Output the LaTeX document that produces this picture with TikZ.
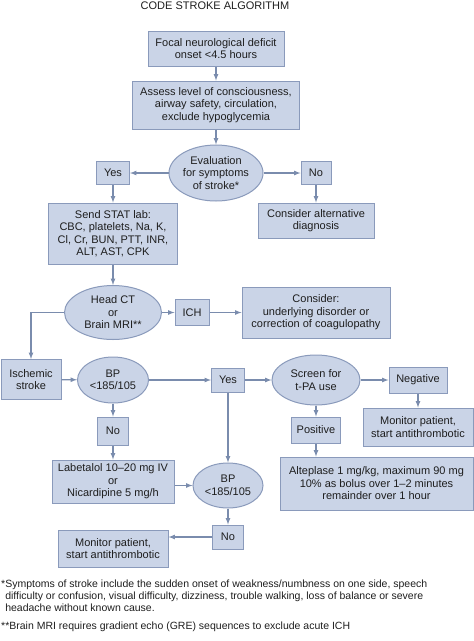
\documentclass[tikz,border=0pt]{standalone}
\usepackage{fontspec}
\setmainfont{Liberation Sans}
\usetikzlibrary{arrows,positioning,shapes.geometric}
\definecolor{boxfill}{HTML}{CAD4E7}
\definecolor{boxline}{HTML}{8A9ABB}
\definecolor{arrowcol}{HTML}{7A8CAD}
\definecolor{txt}{HTML}{1E1E1E}

\begin{document}
\begin{tikzpicture}[x=1pt,y=-1pt,
    every node/.style={font=\fontsize{11}{12.5}\selectfont,text=txt},
    box/.style={draw=boxline,fill=boxfill,line width=1pt,inner sep=0pt,align=center},
    oval/.style={ellipse,draw=boxline,fill=boxfill,line width=1pt,inner sep=0pt,align=center},
    link/.style={draw=arrowcol,line width=1.2pt,-latex},
    foot/.style={anchor=north west,inner sep=0pt,align=left,font=\fontsize{10.5}{12}\selectfont}]
    \useasboundingbox (0,0) rectangle (474,641);

    \node (title) at (215,6) {CODE STROKE ALGORITHM};

    \node[box,minimum width=136pt,minimum height=35pt] (onset) at (216,48.5) {Focal neurological deficit\\onset <4.5 hours};
    \node[box,minimum width=167pt,minimum height=48pt] (assess) at (216,105) {Assess level of consciousness,\\airway safety, circulation,\\exclude hypoglycemia};
    \node[oval,minimum width=94pt,minimum height=56pt] (eval) at (216,173) {Evaluation\\for symptoms\\of stroke*};
    \node[box,minimum width=33pt,minimum height=23pt] (yes1) at (113,173) {Yes};
    \node[box,minimum width=30pt,minimum height=23pt] (no1) at (316,173) {No};
    \node[box,minimum width=129pt,minimum height=61pt] (lab) at (113,233.5) {Send STAT lab:\\CBC, platelets, Na, K,\\Cl, Cr, BUN, PTT, INR,\\ALT, AST, CPK};
    \node[box,minimum width=116pt,minimum height=35pt] (alt) at (316,220.5) {Consider alternative\\diagnosis};

    \node[oval,minimum width=97pt,minimum height=54pt] (headct) at (113,312.5) {Head CT\\or\\Brain MRI**};
    \node[box,minimum width=34pt,minimum height=26pt] (ich) at (192,312.5) {ICH};
    \node[box,minimum width=148pt,minimum height=51pt] (consider) at (316,312.5) {Consider:\\underlying disorder or\\correction of coagulopathy};

    \node[box,minimum width=60pt,minimum height=40pt] (isch) at (31,379.5) {Ischemic\\stroke};
    \node[oval,minimum width=71pt,minimum height=46pt] (bp1) at (113,380) {BP\\<185/105};
    \node[box,minimum width=33pt,minimum height=24pt] (yes2) at (228,380) {Yes};
    \node[oval,minimum width=88pt,minimum height=50pt] (screen) at (316,380) {Screen for\\t-PA use};
    \node[box,minimum width=58pt,minimum height=26pt] (neg) at (418,380) {Negative};
    \node[box,minimum width=110pt,minimum height=38pt] (monR) at (418,427) {Monitor patient,\\start antithrombotic};

    \node[box,minimum width=31pt,minimum height=28pt] (no2) at (113,431) {No};
    \node[box,minimum width=49pt,minimum height=26pt] (pos) at (316,430) {Positive};
    \node[box,minimum width=122pt,minimum height=43pt] (drug) at (113,481.5) {Labetalol 10--20 mg IV\\or\\Nicardipine 5 mg/h};
    \node[oval,minimum width=70pt,minimum height=45pt] (bp2) at (228,485.5) {BP\\<185/105};
    \node[box,minimum width=193pt,minimum height=53pt] (alte) at (376.5,483.5) {Alteplase 1 mg/kg, maximum 90 mg\\10\% as bolus over 1--2 minutes\\remainder over 1 hour};
    \node[box,minimum width=31pt,minimum height=24pt] (no3) at (228,537) {No};
    \node[box,minimum width=110pt,minimum height=37pt] (monL) at (113,548.5) {Monitor patient,\\start antithrombotic};

    \node[foot] (note1) at (1,580) {*Symptoms of stroke include the sudden onset of weakness/numbness on one side, speech\\
        \hphantom{*}difficulty or confusion, visual difficulty, dizziness, trouble walking, loss of balance or severe\\
        \hphantom{*}headache without known cause.};
    \node[foot] (note2) at (1,622) {**Brain MRI requires gradient echo (GRE) sequences to exclude acute ICH};

    \foreach \from/\to in {onset/assess,assess/eval,eval/yes1,eval/no1,yes1/lab,no1/alt,lab/headct,headct/ich,ich/consider,
        isch/bp1,bp1/yes2,yes2/screen,screen/neg,neg/monR,bp1/no2,no2/drug,screen/pos,yes2/bp2,bp2/no3}
        \draw[link] (\from)--(\to);

    \draw[link] (headct.west) -| (isch.north);
    \draw[link] (pos.south) -- (pos.south |- alte.north);
    \draw[link] (drug.east |- bp2.west) -- (bp2.west);
    \draw[link] (no3.west) -- (no3.west -| monL.east);
\end{tikzpicture}
\end{document}
